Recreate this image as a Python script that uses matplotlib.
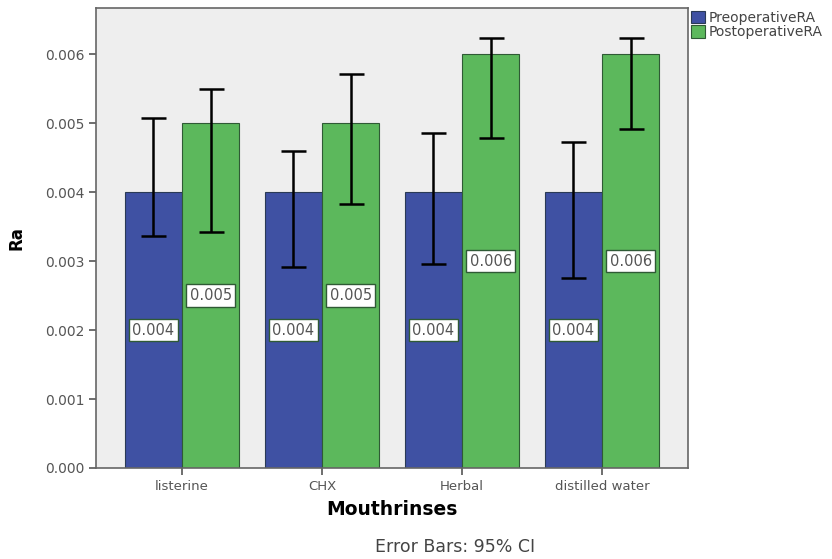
import numpy as np
import matplotlib
matplotlib.use('Agg')
import matplotlib.pyplot as plt

categories = ['listerine', 'CHX', 'Herbal', 'distilled water']
pre_mean = [0.004, 0.004, 0.004, 0.004]
post_mean = [0.005, 0.005, 0.006, 0.006]
# 95% CI bounds
pre_low = [0.00336, 0.00291, 0.00296, 0.00275]
pre_high = [0.00508, 0.00459, 0.00486, 0.00473]
post_low = [0.00342, 0.00383, 0.00478, 0.00492]
post_high = [0.00550, 0.00571, 0.00623, 0.00623]
yticks = [0.000, 0.001, 0.002, 0.003, 0.004, 0.005, 0.006]

blue = '#3f51a3'
green = '#5cb85c'

fig = plt.figure(figsize=(8.32, 5.59), dpi=100)
ax = fig.add_axes([0.1154, 0.1628, 0.7116, 0.8229])
ax.set_facecolor('#eeeeee')

x = np.arange(len(categories))
w = 0.41
pre_err = [np.array(pre_mean) - np.array(pre_low), np.array(pre_high) - np.array(pre_mean)]
post_err = [np.array(post_mean) - np.array(post_low), np.array(post_high) - np.array(post_mean)]

ax.bar(x - w / 2, pre_mean, w, color=blue, edgecolor='#2a3a55', linewidth=0.8,
       label='PreoperativeRA', zorder=2)
ax.bar(x + w / 2, post_mean, w, color=green, edgecolor='#2f5a35', linewidth=0.8,
       label='PostoperativeRA', zorder=2)
ax.errorbar(x - w / 2, pre_mean, yerr=pre_err, fmt='none', ecolor='black',
            elinewidth=1.8, capsize=9, capthick=1.8, zorder=3)
ax.errorbar(x + w / 2, post_mean, yerr=post_err, fmt='none', ecolor='black',
            elinewidth=1.8, capsize=9, capthick=1.8, zorder=3)

box = dict(boxstyle='square,pad=0.25', facecolor='white', edgecolor='#2f5a35', linewidth=1.0)
for i in range(len(categories)):
    ax.text(x[i] - w / 2, pre_mean[i] / 2, f'{pre_mean[i]:.3f}', ha='center', va='center',
            fontsize=10.5, color='#555555', bbox=box, zorder=4)
    ax.text(x[i] + w / 2, post_mean[i] / 2, f'{post_mean[i]:.3f}', ha='center', va='center',
            fontsize=10.5, color='#555555', bbox=box, zorder=4)

ax.set_xlim(-0.614, 3.614)
ax.set_ylim(0, 0.00667)
ax.set_xticks(x)
ax.set_xticklabels(categories, fontsize=9.5, color='#555555')
ax.set_yticks(yticks)
ax.set_yticklabels([f'{t:.3f}' for t in yticks], fontsize=10, color='#555555')
ax.tick_params(direction='out', length=5, width=1.2, color='#555555')
for s in ax.spines.values():
    s.set_color('#666666')
    s.set_linewidth(1.2)

ax.set_xlabel('Mouthrinses', fontsize=13.5, fontweight='bold', labelpad=5)
ax.set_ylabel('Ra', fontsize=12, fontweight='bold', labelpad=14)
fig.text(455 / 832, 1 - 547 / 559, 'Error Bars: 95% CI', ha='center', va='center',
         fontsize=12.5, color='#444444')

ax.legend(loc='upper left', bbox_to_anchor=(1.0, 1.0), frameon=False, fontsize=10,
          handlelength=1.0, handleheight=1.0, handletextpad=0.3, labelspacing=0.05,
          borderaxespad=0.1, borderpad=0.1, labelcolor='#444444')

fig.savefig('out.png', dpi=100)
